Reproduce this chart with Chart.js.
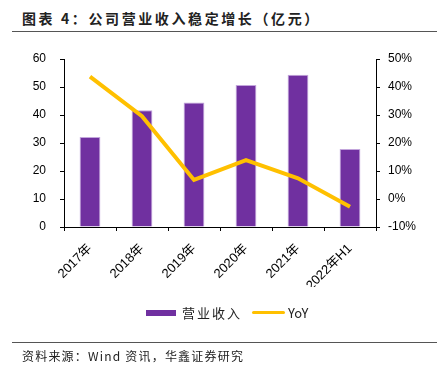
<!DOCTYPE html>
<html>
<head>
<meta charset="utf-8">
<script src="https://cdn.jsdelivr.net/npm/chart.js@4"></script>
<style>
  body { margin: 0; width: 437px; height: 368px; background: #fff; position: relative; overflow: hidden; }
  #titulo { position: absolute; left: 22px; top: 8px; font: bold 14px "Noto Sans CJK SC", sans-serif; letter-spacing: 2.6px; color: #222; }
  #linea1 { position: absolute; left: 12px; right: 0; top: 31px; height: 1px; background: #555; }
  #linea2 { position: absolute; left: 12px; right: 0; top: 342px; height: 1px; background: #555; }
  #fuente { position: absolute; left: 22px; top: 347px; font: 12px "Noto Sans CJK SC", sans-serif; letter-spacing: 1.2px; color: #222; }
  #grafico { position: absolute; left: 0; top: 0; }
  .leyenda { position: absolute; top: 303px; font: 13px "Noto Sans CJK SC", sans-serif; color: #222; display: flex; align-items: center; }
  .caja { display: inline-block; width: 30px; height: 6px; background: #7030A0; margin-right: 6px; }
  .raya { display: inline-block; width: 33px; height: 3px; border-radius: 2px; background: #FFC000; margin-right: 3px; }
</style>
</head>
<body>
<div id="titulo">图表 4：公司营业收入稳定增长（亿元）</div>
<div id="linea1"></div>
<canvas id="grafico" width="437" height="368"></canvas>
<div class="leyenda" style="left:146px; letter-spacing:2px;"><span class="caja"></span>营业收入</div>
<div class="leyenda" style="left:252px;"><span class="raya"></span>YoY</div>
<div id="linea2"></div>
<div id="fuente">资料来源：Wind 资讯，华鑫证券研究</div>
<script>
  // Datos del gráfico
  var categorias = ['2017年', '2018年', '2019年', '2020年', '2021年', '2022年H1'];
  var ingresos = [32.1, 41.7, 44.5, 50.7, 54.4, 27.9];
  var crecimiento = [43.7, 29.6, 6.8, 13.9, 7.4, -2.8];

  var fuenteEjes = { family: 'Arial, "Liberation Sans", "Noto Sans CJK SC", sans-serif', size: 12 };
  var fuenteX = { family: 'Arial, "Liberation Sans", "Noto Sans CJK SC", sans-serif', size: 13 };

  var config = {
    type: 'bar',
    data: {
      labels: categorias,
      datasets: [
        {
          type: 'line',
          label: 'YoY',
          data: crecimiento,
          yAxisID: 'y1',
          borderColor: '#FFC000',
          backgroundColor: '#FFC000',
          borderWidth: 4,
          pointRadius: 0,
          tension: 0,
          order: 0
        },
        {
          label: '营业收入',
          data: ingresos,
          yAxisID: 'y',
          backgroundColor: '#7030A0',
          borderColor: '#C3A6DC',
          borderWidth: 1,
          barPercentage: 0.4,
          categoryPercentage: 1,
          order: 1
        }
      ]
    },
    options: {
      responsive: false,
      animation: false,
      layout: { padding: { top: 59, bottom: 81, left: 0, right: 0 } },
      plugins: { legend: { display: false }, tooltip: { enabled: false } },
      scales: {
        x: {
          grid: { drawOnChartArea: false, drawTicks: true, tickLength: 4, color: '#000', offset: true },
          border: { display: true, color: '#000', width: 1 },
          ticks: { color: '#000', font: fuenteX, minRotation: 45, maxRotation: 45, padding: 10 },
          afterFit: function (s) { s.height = 60; }
        },
        y: {
          position: 'left',
          min: 0, max: 60,
          grid: { drawOnChartArea: false, drawTicks: true, tickLength: 4, color: '#000' },
          border: { display: true, color: '#000', width: 1 },
          ticks: { stepSize: 10, color: '#000', font: fuenteEjes, padding: 14 },
          afterFit: function (s) { s.width = 64; }
        },
        y1: {
          position: 'right',
          min: -10, max: 50,
          grid: { drawOnChartArea: false, drawTicks: true, tickLength: 4, color: '#000' },
          border: { display: true, color: '#000', width: 1 },
          ticks: { stepSize: 10, color: '#000', font: fuenteEjes, padding: 8, callback: function (v) { return v + '%'; } },
          afterFit: function (s) { s.width = 61; }
        }
      }
    }
  };

  var ctx = document.getElementById('grafico').getContext('2d');
  var grafico = new Chart(ctx, config);
</script>
</body>
</html>
